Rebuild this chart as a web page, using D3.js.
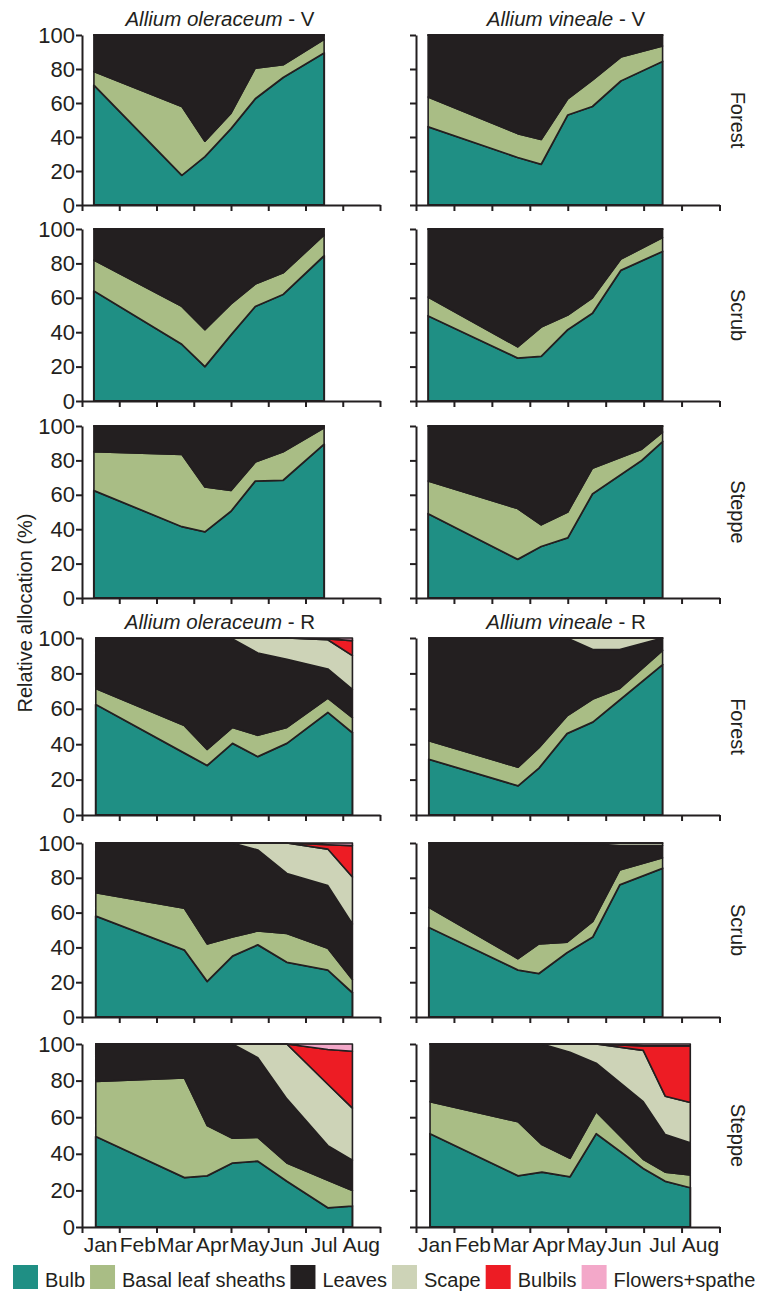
<!DOCTYPE html>
<html>
<head>
<meta charset="utf-8">
<script src="https://cdn.jsdelivr.net/npm/d3@7"></script>
<style>
  body { margin: 0; background: #fff; }
  text { font-family: "Liberation Sans", Arial, Helvetica, sans-serif; fill: #231f20; }
</style>
</head>
<body>
<svg id="chart" width="760" height="1293"></svg>
<script>
var parts = ["Bulb", "Basal leaf sheaths", "Leaves", "Scape", "Bulbils", "Flowers+spathe"];
var partColors = ["#1f8f84", "#a9bd85", "#231f20", "#cdd3b7", "#ed1c24", "#f3a8c9"];
var months = ["Jan", "Feb", "Mar", "Apr", "May", "Jun", "Jul", "Aug"];
var habitats = ["Forest", "Scrub", "Steppe"];
var species = ["Allium oleraceum", "Allium vineale"];
var stages = ["V", "R"];

// sampling dates, months since 1 Jan
var datesV = [0.32, 2.68, 3.3, 4.0, 4.65, 5.4, 6.5];
var datesVinV_steppe = [0.32, 2.68, 3.3, 4.0, 4.65, 5.95, 6.5];
var datesOleR = [0.37, 2.75, 3.36, 4.04, 4.72, 5.5, 6.6, 7.26];
var datesVinR = [0.34, 2.69, 3.24, 3.98, 4.66, 5.37, 6.5];
var datesVinR_steppe = [0.37, 2.69, 3.32, 4.06, 4.75, 5.99, 6.57, 7.23];

// one row per date: bulb, sheaths, leaves, scape, bulbils, flowers (%)
var oleV_forest = [[70.5, 8, 21.5, 0, 0, 0], [17.5, 40.5, 42, 0, 0, 0], [28.5, 9, 62.5, 0, 0, 0],
  [45, 9, 46, 0, 0, 0], [62.5, 18, 19.5, 0, 0, 0], [75, 7.5, 17.5, 0, 0, 0], [89.5, 8, 2.5, 0, 0, 0]];
var vinV_forest = [[46, 17.5, 36.5, 0, 0, 0], [28, 14, 58, 0, 0, 0], [24, 14.5, 61.5, 0, 0, 0],
  [53, 9.5, 37.5, 0, 0, 0], [58, 15.5, 26.5, 0, 0, 0], [73, 14, 13, 0, 0, 0], [84.5, 9, 6.5, 0, 0, 0]];
var oleV_scrub = [[64, 18, 18, 0, 0, 0], [33, 22, 45, 0, 0, 0], [20, 21.5, 58.5, 0, 0, 0],
  [38.5, 18, 43.5, 0, 0, 0], [55, 13, 32, 0, 0, 0], [62, 12.5, 25.5, 0, 0, 0], [84.5, 12, 3.5, 0, 0, 0]];
var vinV_scrub = [[49.5, 11, 39.5, 0, 0, 0], [25, 6.5, 68.5, 0, 0, 0], [26, 17, 57, 0, 0, 0],
  [41.5, 8.5, 50, 0, 0, 0], [51, 9, 40, 0, 0, 0], [76, 6.5, 17.5, 0, 0, 0], [87, 8, 5, 0, 0, 0]];
var oleV_steppe = [[62.5, 22.5, 15, 0, 0, 0], [41.5, 42, 16.5, 0, 0, 0], [38.5, 26, 35.5, 0, 0, 0],
  [50.5, 12, 37.5, 0, 0, 0], [68, 11, 21, 0, 0, 0], [68.5, 16.5, 15, 0, 0, 0], [89.5, 9.5, 1, 0, 0, 0]];
var vinV_steppe = [[49, 19, 32, 0, 0, 0], [22.5, 29.5, 48, 0, 0, 0], [30, 12.5, 57.5, 0, 0, 0],
  [35, 15, 50, 0, 0, 0], [60.5, 15, 24.5, 0, 0, 0], [80, 6.5, 13.5, 0, 0, 0], [91, 5.5, 3.5, 0, 0, 0]];

var oleR_forest = [[62.5, 9, 28.5, 0, 0, 0], [35, 15.5, 49.5, 0, 0, 0], [28, 9, 63, 0, 0, 0],
  [40.5, 9, 50, 0.5, 0, 0], [33, 12, 46.5, 8.5, 0, 0], [40.5, 9, 38.5, 12, 0, 0],
  [58, 8, 16.5, 16.5, 0.5, 0.5], [46.5, 8.5, 16, 19, 8.5, 1.5]];
var vinR_forest = [[31.5, 10.5, 58, 0, 0, 0], [16.5, 10.5, 73, 0, 0, 0], [26.5, 11.5, 62, 0, 0, 0],
  [46, 10, 44, 0, 0, 0], [52.5, 13, 28, 6.5, 0, 0], [65, 6.5, 22, 6.5, 0, 0], [85, 8, 7, 0, 0, 0]];
var oleR_scrub = [[58, 13.5, 28.5, 0, 0, 0], [38.5, 24, 37.5, 0, 0, 0], [20.5, 21.5, 58, 0, 0, 0],
  [35, 11, 54, 0, 0, 0], [41.5, 8, 46.5, 4, 0, 0], [31.5, 16.5, 34.5, 17.5, 0, 0],
  [27, 12.5, 36, 21, 2.5, 1], [14, 7.5, 32, 27, 18, 1.5]];
var vinR_scrub = [[51.5, 11.5, 37, 0, 0, 0], [27, 6.5, 66.5, 0, 0, 0], [25, 17, 58, 0, 0, 0],
  [37, 6, 57, 0, 0, 0], [46, 9, 44.5, 0.5, 0, 0], [76, 8.5, 14, 1.5, 0, 0], [85.5, 6, 7, 1.5, 0, 0]];
var oleR_steppe = [[49.5, 30, 20.5, 0, 0, 0], [27, 54.5, 18.5, 0, 0, 0], [28, 27.5, 44.5, 0, 0, 0],
  [35, 13.5, 51.5, 0, 0, 0], [36, 13, 43.5, 7.5, 0, 0], [25, 10, 35, 30, 0, 0],
  [10.5, 15, 19, 33.5, 19, 3], [11.5, 8.5, 16.5, 28.5, 31, 4]];
var vinR_steppe = [[51, 17.5, 31.5, 0, 0, 0], [28, 29.5, 42.5, 0, 0, 0], [30, 15, 55, 0, 0, 0],
  [27.5, 10, 58, 4.5, 0, 0], [51, 12, 26.5, 10.5, 0, 0], [32, 5, 31.5, 28, 2.5, 1],
  [25, 5, 20.5, 21, 27.5, 1], [21.5, 7, 17.5, 22, 31, 1]];

var panels = [
  {rows: oleV_forest, dates: datesV, col: 0, row: 0},
  {rows: vinV_forest, dates: datesV, col: 1, row: 0},
  {rows: oleV_scrub, dates: datesV, col: 0, row: 1},
  {rows: vinV_scrub, dates: datesV, col: 1, row: 1},
  {rows: oleV_steppe, dates: datesV, col: 0, row: 2},
  {rows: vinV_steppe, dates: datesVinV_steppe, col: 1, row: 2},
  {rows: oleR_forest, dates: datesOleR, col: 0, row: 3},
  {rows: vinR_forest, dates: datesVinR, col: 1, row: 3},
  {rows: oleR_scrub, dates: datesOleR, col: 0, row: 4},
  {rows: vinR_scrub, dates: datesVinR, col: 1, row: 4},
  {rows: oleR_steppe, dates: datesOleR, col: 0, row: 5},
  {rows: vinR_steppe, dates: datesVinR_steppe, col: 1, row: 5}
];

var ink = "#231f20";
var font = '"Liberation Sans", Arial, Helvetica, sans-serif';
var svg = d3.select("#chart");

var colX = [[82, 380], [416, 719.5]];
var rowY = [[205, 35], [401, 229], [598, 426], [815, 638], [1017, 843], [1227, 1044]];

var stack = d3.stack()
              .keys(d3.range(parts.length))
              .value(function(d, k) { return d.v[k]; });

panels.forEach(function(p) {
  var x = d3.scaleLinear().domain([0, 8]).range(colX[p.col]);
  var y = d3.scaleLinear().domain([0, 100]).range(rowY[p.row]);
  var g = svg.append("g");

  var table = p.rows.map(function(r, i) { return {date: p.dates[i], v: r}; });

  var area = d3.area()
               .x(function(d) { return x(d.data.date); })
               .y0(function(d) { return y(d[0]); })
               .y1(function(d) { return y(d[1]); });

  g.selectAll("path.layer")
   .data(stack(table))
   .enter()
   .append("path")
   .attr("class", "layer")
   .attr("fill", function(d, i) { return partColors[i]; })
   .attr("stroke", ink)
   .attr("stroke-width", function(d, i) { return i == 0 ? 2 : 1.6; })
   .attr("stroke-linejoin", "round")
   .attr("d", area);

  var yAxis = d3.axisLeft(y)
                .tickValues([0, 20, 40, 60, 80, 100])
                .tickSize(6)
                .tickSizeOuter(0)
                .tickPadding(1);
  if (p.col == 1) yAxis.tickFormat("");

  var gy = g.append("g")
            .attr("transform", "translate(" + colX[p.col][0] + ",0)")
            .call(yAxis);

  var xAxis = d3.axisBottom(x)
                .tickValues(d3.range(9))
                .tickSize(6)
                .tickSizeOuter(0)
                .tickFormat("");

  var gx = g.append("g")
            .attr("transform", "translate(0," + rowY[p.row][0] + ")")
            .call(xAxis);

  [gy, gx].forEach(function(ax) {
    ax.attr("font-size", 22).attr("font-family", font);
    ax.select(".domain").attr("stroke", ink).attr("stroke-width", 2);
    ax.selectAll(".tick line").attr("stroke", ink).attr("stroke-width", 2);
    ax.selectAll(".tick text").attr("fill", ink);
  });

  // month labels on the bottom row only
  if (p.row == 5) {
    g.selectAll("text.month")
     .data(months)
     .enter()
     .append("text")
     .attr("class", "month")
     .attr("x", function(d, i) { return x(i + 0.5); })
     .attr("y", 1252)
     .attr("text-anchor", "middle")
     .attr("font-size", 21)
     .text(function(d) { return d; });
  }
});

// species titles
[[0, 26], [1, 629]].forEach(function(t) {
  [220, 566].forEach(function(cx, c) {
    var txt = svg.append("text")
                 .attr("x", cx)
                 .attr("y", t[1])
                 .attr("text-anchor", "middle")
                 .attr("font-size", 20.5);
    txt.append("tspan").attr("font-style", "italic").text(species[c]);
    txt.append("tspan").text(" - " + stages[t[0]]);
  });
});

// habitat labels on the right
rowY.forEach(function(r, i) {
  var cy = (r[0] + r[1]) / 2;
  svg.append("text")
     .attr("transform", "translate(731," + cy + ") rotate(90)")
     .attr("text-anchor", "middle")
     .attr("font-size", 20)
     .text(habitats[i % 3]);
});

svg.append("text")
   .attr("transform", "translate(32,613) rotate(-90)")
   .attr("text-anchor", "middle")
   .attr("font-size", 20)
   .text("Relative allocation (%)");

// legend
var lx = 13;
parts.forEach(function(name, i) {
  svg.append("rect")
     .attr("x", lx).attr("y", 1265)
     .attr("width", 25).attr("height", 24)
     .attr("fill", partColors[i]);
  lx += 25 + 7;
  var t = svg.append("text")
             .attr("x", lx).attr("y", 1287)
             .attr("font-size", 20)
             .text(name);
  lx += t.node().getComputedTextLength() + 5;
});
</script>
</body>
</html>
